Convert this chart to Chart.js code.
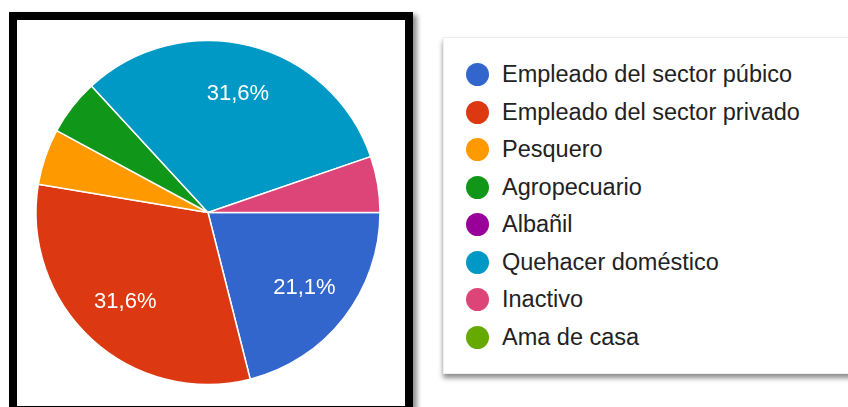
<!DOCTYPE html>
<html>
<head>
<meta charset="utf-8">
<script src="https://cdn.jsdelivr.net/npm/chart.js@4/dist/chart.umd.min.js"></script>
<style>
  html, body { margin: 0; padding: 0; background: #fff; }
  body { width: 848px; height: 407px; position: relative; overflow: hidden; font-family: "Liberation Sans", Arial, sans-serif; }
  #frame { position: absolute; left: 9px; top: 12px; width: 404px; height: 402px; box-sizing: border-box;
    border: 8px solid #000; background: #fff; box-shadow: 4px 3px 5px rgba(0,0,0,0.45); }
  #pieWrap { position: absolute; left: 0; top: 0; width: 416px; height: 407px; }
  #legendBox { position: absolute; left: 443px; top: 37px; width: 420px; height: 335px; background: #fff;
    border: 1px solid #eee; box-shadow: 0 4px 5px rgba(0,0,0,0.45); }
  #legend { position: absolute; left: 466px; top: 56px; margin: 0; padding: 0; list-style: none; }
  #legend li { height: 37.5px; display: flex; align-items: center; font-size: 23.5px; color: #222; white-space: nowrap; }
  #legend .dot { width: 23px; height: 23px; border-radius: 50%; margin-right: 13px; flex: none; }
</style>
</head>
<body>
<div id="frame"></div>
<div id="pieWrap"><canvas id="pie"></canvas></div>
<div id="legendBox"></div>
<ul id="legend"></ul>
<script>
// respuestas por ocupación (19 en total)
const labels = ['Empleado del sector púbico', 'Empleado del sector privado', 'Pesquero', 'Agropecuario',
  'Albañil', 'Quehacer doméstico', 'Inactivo', 'Ama de casa'];
const counts = [4, 6, 1, 1, 0, 6, 1, 0];
const colors = ['#3366cc', '#dc3912', '#ff9900', '#109618', '#990099', '#0099c6', '#dd4477', '#66aa00'];

const total = counts.reduce((a, b) => a + b, 0);

// percentage text inside the big slices
const sliceLabels = {
  id: 'sliceLabels',
  afterDatasetsDraw(chart) {
    const ctx = chart.ctx;
    const meta = chart.getDatasetMeta(0);
    ctx.save();
    ctx.font = '22px "Liberation Sans", Arial, sans-serif';
    ctx.fillStyle = '#fff';
    ctx.textAlign = 'center';
    ctx.textBaseline = 'middle';
    meta.data.forEach((arc, i) => {
      const pct = counts[i] / total * 100;
      if (pct < 10) return;
      const { x, y, startAngle, endAngle, outerRadius } = arc.getProps(['x', 'y', 'startAngle', 'endAngle', 'outerRadius'], true);
      const mid = (startAngle + endAngle) / 2;
      const r = outerRadius * 0.71;
      ctx.fillText(pct.toFixed(1).replace('.', ',') + '%', x + Math.cos(mid) * r, y + Math.sin(mid) * r);
    });
    ctx.restore();
  }
};

new Chart(document.getElementById('pie'), {
  type: 'pie',
  data: { labels, datasets: [{ data: counts, backgroundColor: colors, borderColor: '#fff', borderWidth: 1.5 }] },
  options: {
    responsive: true,
    maintainAspectRatio: false,
    animation: false,
    rotation: 90,
    layout: { padding: { top: 39.75, bottom: 21.75, left: 0, right: 0 } },
    plugins: { legend: { display: false }, tooltip: { enabled: false } }
  },
  plugins: [sliceLabels]
});

const legendEl = document.getElementById('legend');
legendEl.innerHTML = labels.map((l, i) =>
  `<li><span class="dot" style="background:${colors[i]}"></span>${l}</li>`).join('');
</script>
</body>
</html>
